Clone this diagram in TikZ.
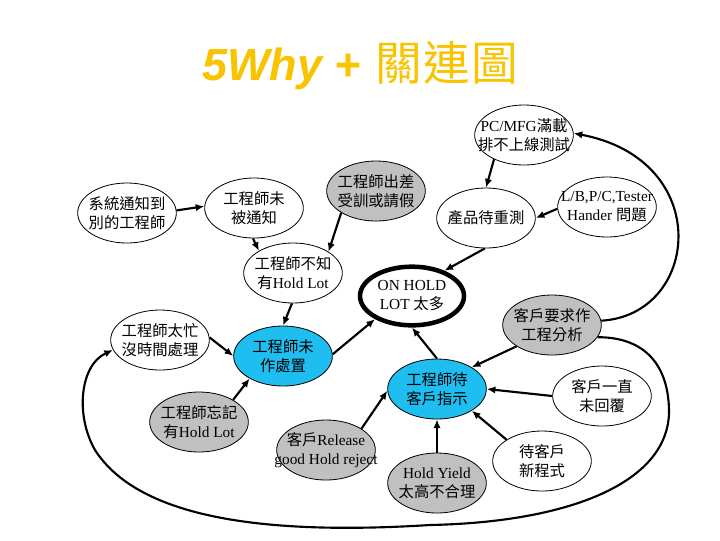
\documentclass[tikz,border=0pt]{standalone}
\usepackage{fontspec}
\setmainfont{Liberation Serif}
\newfontfamily\zhfont{Noto Sans CJK TC}
\newfontfamily\titlelat{Liberation Sans}
\newcommand\zh[1]{{\zhfont #1}}
\usetikzlibrary{shapes.geometric,arrows.meta}
\definecolor{cyanfill}{RGB}{30,190,240}
\definecolor{grayfill}{RGB}{192,192,192}
\definecolor{titlegold}{RGB}{248,196,0}
\newcommand\bubble[4]{\node[bub,#3] (#1) at (#2) {}; \node[txt] at (#1) {#4};}
\begin{document}
\begin{tikzpicture}[x=0.75pt,y=-0.75pt,
  bub/.style={ellipse, draw=black, line width=0.6pt, inner sep=0pt, minimum width=74pt, minimum height=45pt},
  wh/.style={fill=white},
  gr/.style={fill=grayfill},
  cy/.style={fill=cyanfill},
  txt/.style={align=center, inner sep=0pt, font=\fontsize{11.5}{14.3}\selectfont},
  con/.style={line width=1.6pt, -{Latex[length=6.5pt,width=5.5pt]}}]
\useasboundingbox (0,0) rectangle (720,540);
\fill[white] (0,0) rectangle (720,540);

% title
\node[anchor=base west, inner sep=0pt, text=titlegold] (title) at (202,80)
  {{\titlelat\bfseries\itshape\fontsize{33.75}{40}\selectfont 5Why +}\hspace{11pt}{\zhfont\fontsize{35}{40}\selectfont 關\hspace{1pt}連\hspace{1pt}圖}};

% nodes
\bubble{n1}{127,213}{wh}{\zh{系統通知到}\\\zh{別的工程師}}
\bubble{n2}{254,208}{wh}{\zh{工程師未}\\\zh{被通知}}
\bubble{n3}{376,191}{gr}{\zh{工程師出差}\\\zh{受訓或請假}}
\bubble{n4}{293,273}{wh}{\zh{工程師不知}\\\zh{有}Hold Lot}
\bubble{n5}{524,135}{wh}{PC/MFG\zh{滿載}\\\zh{排不上線測試}}
\bubble{n6}{486,218}{wh}{\zh{產品待重測}}
\bubble{n7}{607,207}{wh}{L/B,P/C,Tester\\Hander \zh{問題}}
\bubble{n8}{412,296}{wh,line width=3.4pt,minimum width=78pt,minimum height=44pt}{ON HOLD\\LOT \zh{太多}}
\bubble{n9}{552,325}{gr}{\zh{客戶要求作}\\\zh{工程分析}}
\bubble{n10}{160,340}{wh}{\zh{工程師太忙}\\\zh{沒時間處理}}
\bubble{n11}{283,356}{cy}{\zh{工程師未}\\\zh{作處置}}
\bubble{n12}{199,422}{gr}{\zh{工程師忘記}\\\zh{有}Hold Lot}
\bubble{n13}{326,450}{gr}{\zh{客戶}Release\\good Hold reject}
\bubble{n14}{437,389}{cy}{\zh{工程師待}\\\zh{客戶指示}}
\bubble{n15}{437,483}{gr}{Hold Yield\\\zh{太高不合理}}
\bubble{n16}{602,396}{wh}{\zh{客戶一直}\\\zh{未回覆}}
\bubble{n17}{542,461}{wh}{\zh{待客戶}\\\zh{新程式}}

% connectors
\draw[con] (n1.3) -- (n2.178);
\draw[con] (n2.268) -- (n4.147);
\draw[con] (n3.212) -- (n4.31);
\draw[con] (n5.219) -- (n6.90);
\draw[con] (n7.182) -- (n6.0);
\draw[con] (n6.268) -- (n8.38);
\draw[con] (n4.268) -- (n11.90);
\draw[con] (n10.3) -- (n11.180);
\draw[con] (n12.33) -- (n11.214);
\draw[con] (n11.2) -- (n8.212);
\draw[con] (n14.90) -- (n8.270);
\draw[con] (n9.211) -- (n14.32);
\draw[con] (n13.31) -- (n14.182);
\draw[con] (n15.90) -- (n14.270);
\draw[con] (n16.180) -- (n14.0);
\draw[con] (n17.149) -- (n14.328);

\coordinate (c1) at (669,410);
\coordinate (c2) at (430,525);
\coordinate (c3) at (95,450);
\draw[con] (n9.5) .. controls (700,315) and (715,160) .. (n5.2);
\draw[con] (n9.345) .. controls (640,337) and (668,360) .. (c1)
  .. controls (670,480) and (575,522) .. (c2)
  .. controls (270,535) and (140,520) .. (c3)
  .. controls (75,415) and (80,365) .. (n10.192);
\end{tikzpicture}
\end{document}
